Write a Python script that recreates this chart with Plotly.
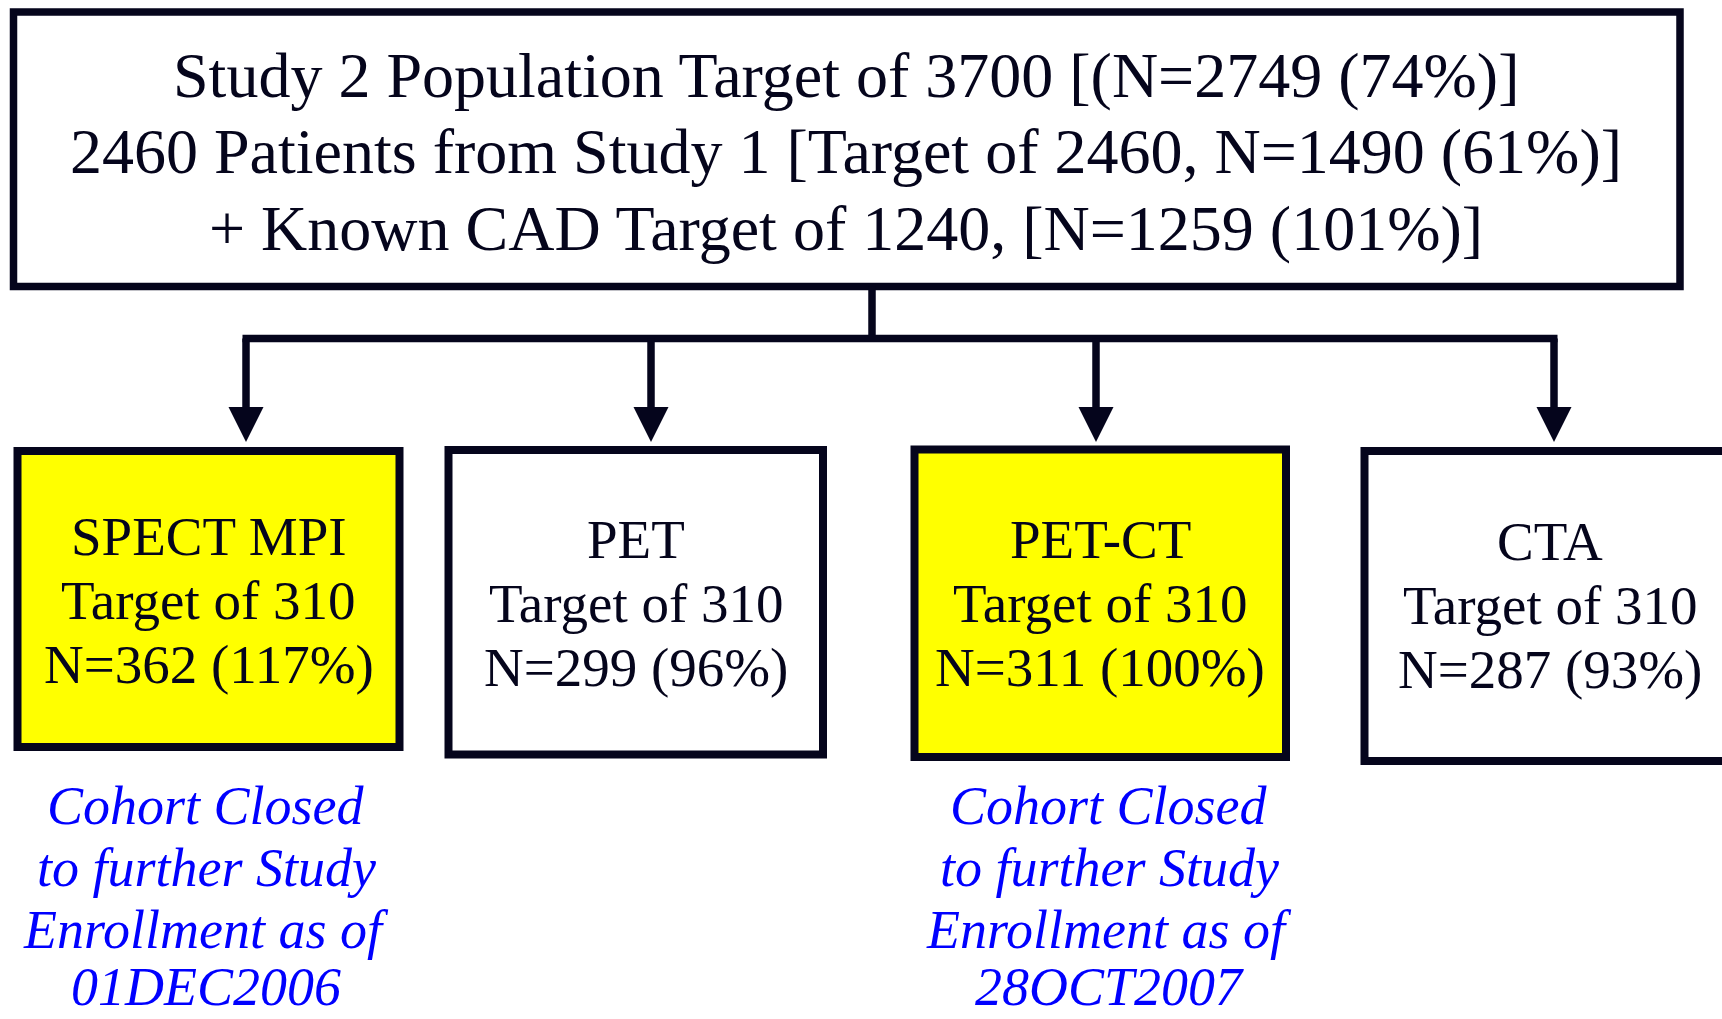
import plotly.graph_objects as go

# ---------------- data ----------------
top_lines = [
    "Study 2 Population Target of 3700 [(N=2749 (74%)]",
    "2460 Patients from Study 1 [Target of 2460, N=1490 (61%)]",
    "+ Known CAD Target of 1240, [N=1259 (101%)]",
]
modalities = ["SPECT MPI", "PET", "PET-CT", "CTA"]
targets = [310, 310, 310, 310]
enrolled = [362, 299, 311, 287]
percents = [117, 96, 100, 93]
highlighted = [True, False, True, False]
closed_dates = ["01DEC2006", None, "28OCT2007", None]

# ---------------- layout geometry ----------------
W, H = 1722, 1019
INK = "#05051c"
FONT = "Liberation Serif, Times New Roman, serif"

top_box = (13.5, 12, 1680, 286.5)
trunk_x = 872
bus_y = 338.5
box_x0 = [17.5, 448.5, 914.5, 1364.5]
box_x1 = [399.5, 823, 1286, 1736]
box_y0 = [451, 450, 449.5, 451]
box_y1 = [747, 754.5, 757, 761]
arrow_x = [246, 651, 1096, 1554]
head_top, head_tip, head_half = 407, 442, 17.5
text_base = [555, 558, 558, 560]
text_cx = [208.5, 636, 1100, 1550]
line_gap = 64
note_cx = [206, None, 1109, None]
note_base = [824, 886, 948, 1005]

fig = go.Figure()
shapes = []
ann = []

# top box
shapes.append(dict(type="rect", x0=top_box[0], y0=top_box[1], x1=top_box[2], y1=top_box[3],
                   line=dict(color=INK, width=7.5), fillcolor="white", layer="below"))
top_size = 64
for i, t in enumerate(top_lines):
    base = [97, 173.5, 250][i]
    ann.append(dict(x=846, y=base - 0.3375 * top_size, text=t, showarrow=False,
                    xanchor="center", yanchor="middle",
                    font=dict(family=FONT, size=top_size, color=INK)))

# connectors
shapes.append(dict(type="line", x0=trunk_x, x1=trunk_x, y0=top_box[3], y1=bus_y,
                   line=dict(color=INK, width=7.5)))
shapes.append(dict(type="line", x0=min(arrow_x) - 3.5, x1=max(arrow_x) + 3.5, y0=bus_y, y1=bus_y,
                   line=dict(color=INK, width=7.5)))
for ax in arrow_x:
    shapes.append(dict(type="line", x0=ax, x1=ax, y0=bus_y, y1=head_top + 2,
                       line=dict(color=INK, width=7.5)))
    shapes.append(dict(type="path",
                       path=f"M {ax - head_half},{head_top} L {ax + head_half},{head_top} L {ax},{head_tip} Z",
                       fillcolor=INK, line=dict(color=INK, width=0)))

# modality boxes
box_size = 55
for i, m in enumerate(modalities):
    shapes.append(dict(type="rect", x0=box_x0[i], x1=box_x1[i], y0=box_y0[i], y1=box_y1[i],
                       line=dict(color=INK, width=8),
                       fillcolor="#ffff00" if highlighted[i] else "white"))
    lines = [m, f"Target of {targets[i]}", f"N={enrolled[i]} ({percents[i]}%)"]
    for k, t in enumerate(lines):
        ann.append(dict(x=text_cx[i], y=text_base[i] + k * line_gap - 0.3375 * box_size,
                        text=t, showarrow=False, xanchor="center", yanchor="middle",
                        font=dict(family=FONT, size=box_size, color=INK)))

# closure notes
note_size = 54
for i, d in enumerate(closed_dates):
    if d is None:
        continue
    lines = ["<i>Cohort Closed</i>", "<i>to further Study</i>", "<i>Enrollment as of</i>", f"<i>{d}</i>"]
    for k, t in enumerate(lines):
        ann.append(dict(x=note_cx[i], y=note_base[k] - 0.3375 * note_size, text=t, showarrow=False,
                        xanchor="center", yanchor="middle",
                        font=dict(family=FONT, size=note_size, color="#0000ff")))

fig.update_layout(
    width=W, height=H,
    margin=dict(l=0, r=0, t=0, b=0),
    paper_bgcolor="white", plot_bgcolor="white",
    xaxis=dict(range=[0, W], visible=False, fixedrange=True),
    yaxis=dict(range=[H, 0], visible=False, fixedrange=True),
    shapes=shapes, annotations=ann, showlegend=False,
)
fig.write_html(
    "out.html",
    config={"displayModeBar": False},
    post_script="document.body.style.margin='0';document.body.style.overflow='hidden';",
)
